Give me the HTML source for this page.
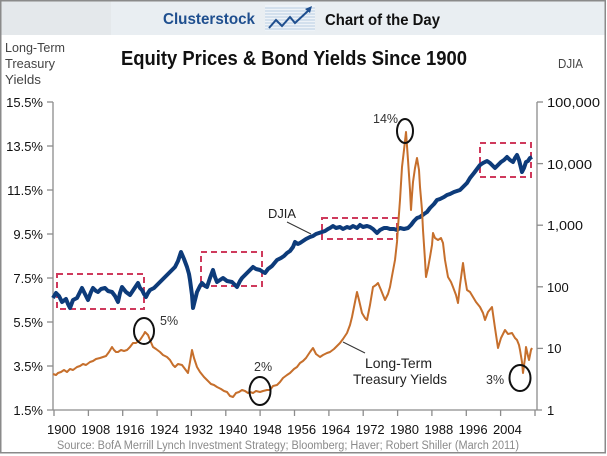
<!DOCTYPE html>
<html><head><meta charset="utf-8"><style>
html,body{margin:0;padding:0;background:#fff;}
svg{display:block;}
text{font-family:"Liberation Sans",sans-serif;}
</style></head><body>
<svg width="607" height="456" viewBox="0 0 607 456" xmlns="http://www.w3.org/2000/svg">
<rect x="0" y="0" width="607" height="456" fill="#fff"/>
<!-- header band -->
<rect x="1" y="1" width="604" height="34" fill="#e9eef2"/>
<rect x="1" y="1" width="110" height="34" fill="#e4e8eb"/>
<!-- border -->
<rect x="0.75" y="0.75" width="604.5" height="452" fill="none" stroke="#8a8a8a" stroke-width="1.5"/>

<text x="163" y="24" font-size="16" font-weight="bold" fill="#1f4f8f" textLength="92" lengthAdjust="spacingAndGlyphs">Clusterstock</text>
<!-- icon -->
<g>
<rect x="265" y="5" width="50" height="26" fill="#eef3f8"/>
<g stroke="#b8cde2" stroke-width="1">
<line x1="265" y1="8" x2="315" y2="8"/><line x1="265" y1="11" x2="315" y2="11"/><line x1="265" y1="14" x2="315" y2="14"/>
<line x1="265" y1="17" x2="315" y2="17"/><line x1="265" y1="20" x2="315" y2="20"/><line x1="265" y1="23" x2="315" y2="23"/>
<line x1="265" y1="26" x2="315" y2="26"/><line x1="265" y1="29" x2="315" y2="29"/>
</g>
<polyline points="269,28 276,20 282,26 290,17 295,23 309,10" fill="none" stroke="#1f4f8f" stroke-width="2"/>
<polygon points="312,6 305,9 310,13" fill="#1f4f8f"/>
</g>
<text x="325" y="25" font-size="16" font-weight="bold" fill="#111" textLength="115" lengthAdjust="spacingAndGlyphs">Chart of the Day</text>

<!-- title -->
<text x="121" y="65" font-size="20" font-weight="bold" fill="#111" textLength="346" lengthAdjust="spacingAndGlyphs">Equity Prices &amp; Bond Yields Since 1900</text>

<g font-size="12.5" fill="#444">
<text x="5" y="52" textLength="60" lengthAdjust="spacingAndGlyphs">Long-Term</text>
<text x="5" y="68" textLength="50" lengthAdjust="spacingAndGlyphs">Treasury</text>
<text x="5" y="84" textLength="36" lengthAdjust="spacingAndGlyphs">Yields</text>
<text x="558" y="68" textLength="25" lengthAdjust="spacingAndGlyphs">DJIA</text>
</g>

<!-- axes -->
<g stroke="#8c8c8c" stroke-width="1.3" fill="none">
<line x1="53" y1="102" x2="53" y2="410"/>
<line x1="537" y1="102" x2="537" y2="410"/>
<line x1="47" y1="410" x2="542" y2="410"/>
<line x1="47" y1="102" x2="53" y2="102"/>
<line x1="47" y1="146" x2="53" y2="146"/>
<line x1="47" y1="190" x2="53" y2="190"/>
<line x1="47" y1="234" x2="53" y2="234"/>
<line x1="47" y1="278" x2="53" y2="278"/>
<line x1="47" y1="322" x2="53" y2="322"/>
<line x1="47" y1="366" x2="53" y2="366"/>
<line x1="537" y1="102" x2="543" y2="102"/>
<line x1="537" y1="163.6" x2="543" y2="163.6"/>
<line x1="537" y1="225.2" x2="543" y2="225.2"/>
<line x1="537" y1="286.8" x2="543" y2="286.8"/>
<line x1="537" y1="348.4" x2="543" y2="348.4"/>
<line x1="54" y1="410" x2="54" y2="416"/>
<line x1="88.4" y1="410" x2="88.4" y2="416"/>
<line x1="122.7" y1="410" x2="122.7" y2="416"/>
<line x1="157.1" y1="410" x2="157.1" y2="416"/>
<line x1="191.4" y1="410" x2="191.4" y2="416"/>
<line x1="225.8" y1="410" x2="225.8" y2="416"/>
<line x1="260.1" y1="410" x2="260.1" y2="416"/>
<line x1="294.5" y1="410" x2="294.5" y2="416"/>
<line x1="328.9" y1="410" x2="328.9" y2="416"/>
<line x1="363.2" y1="410" x2="363.2" y2="416"/>
<line x1="397.6" y1="410" x2="397.6" y2="416"/>
<line x1="431.9" y1="410" x2="431.9" y2="416"/>
<line x1="466.3" y1="410" x2="466.3" y2="416"/>
<line x1="500.6" y1="410" x2="500.6" y2="416"/>
<line x1="535" y1="410" x2="535" y2="416"/>
</g>

<!-- left labels -->
<g font-size="13" fill="#111" text-anchor="end">
<text x="43" y="107">15.5%</text>
<text x="43" y="151">13.5%</text>
<text x="43" y="195">11.5%</text>
<text x="43" y="239">9.5%</text>
<text x="43" y="283">7.5%</text>
<text x="43" y="327">5.5%</text>
<text x="43" y="371">3.5%</text>
<text x="43" y="415">1.5%</text>
</g>
<!-- right labels -->
<g font-size="13" fill="#111">
<text x="547" y="107" textLength="53" lengthAdjust="spacingAndGlyphs">100,000</text>
<text x="547" y="169" textLength="45" lengthAdjust="spacingAndGlyphs">10,000</text>
<text x="547" y="230" textLength="36" lengthAdjust="spacingAndGlyphs">1,000</text>
<text x="547" y="292">100</text>
<text x="547" y="353">10</text>
<text x="547" y="415">1</text>
</g>
<!-- x labels -->
<g font-size="13" fill="#111" text-anchor="middle">
<text x="61.5" y="434">1900</text>
<text x="95.8" y="434">1908</text>
<text x="130.1" y="434">1916</text>
<text x="164.4" y="434">1924</text>
<text x="198.7" y="434">1932</text>
<text x="233" y="434">1940</text>
<text x="267.3" y="434">1948</text>
<text x="301.6" y="434">1956</text>
<text x="335.9" y="434">1964</text>
<text x="370.2" y="434">1972</text>
<text x="404.5" y="434">1980</text>
<text x="438.8" y="434">1988</text>
<text x="473.1" y="434">1996</text>
<text x="507.4" y="434">2004</text>
</g>
<text x="57" y="449" font-size="11.5" fill="#8a8a8a" textLength="462" lengthAdjust="spacingAndGlyphs">Source: BofA Merrill Lynch Investment Strategy; Bloomberg; Haver; Robert Shiller (March 2011)</text>

<!-- dashed boxes -->
<g fill="none" stroke="#cf3a5c" stroke-width="2" stroke-dasharray="6 4">
<rect x="57" y="274" width="87" height="35"/>
<rect x="201" y="252" width="61" height="34"/>
<rect x="322" y="218" width="75" height="21"/>
<rect x="480" y="143" width="51" height="34"/>
</g>

<!-- DJIA -->
<polyline fill="none" stroke="#0d3b7a" stroke-width="4" stroke-linejoin="round" points="53,298 56,293 59,296 62,302 66,299 68,304 70,308 73,300 77,298 80,292 82,288 85,294 88,300 91,292 93,288 96,291 98,292 101,289 105,288 108,291 112,292 115,296 118,302 120,293 122,287 126,292 130,295 134,289 138,283 140,288 142,290 144,294 146,297 148,293 150,290 154,288 157,285 160,282 163,279 167,275 171,271 175,267 178,261 181,252 184,259 187,267 189,274 190,280 192,295 193,308 195,300 197,292 200,286 202,283 205,286 207,287 210,278 213,270 215,277 217,282 220,280 223,278 227,281 232,282 235,285 237,287 240,281 242,278 246,274 250,270 253,267 256,269 260,270 263,272 265,273 268,269 272,266 277,260 281,258 284,256 287,253 290,251 293,247 295,242 298,244 300,243 303,241 306,239 310,237 313,236 316,234 319,233 322,232 325,231 328,229 330,228 333,226 336,228 340,227 343,229 347,227 350,228 353,226 357,228 360,225 363,227 367,226 370,227 373,229 377,233 380,230 384,228 387,228 390,229 394,229 397,230 400,228 404,229 408,228 411,225 414,221 417,218 420,217 424,214 427,212 430,208 434,204 437,200 440,199 444,197 447,195 450,194 454,192 457,191 460,190 463,187 467,183 470,178 474,173 477,169 480,165 483,163 487,161 490,163 493,166 495,168 498,165 501,162 504,160 507,157 510,160 513,162 515,158 517,155 519,160 521,168 522,172 524,168 526,162 528,161 530,158 532,157"/>

<!-- Treasury -->
<polyline fill="none" stroke="#c66f2c" stroke-width="2" stroke-linejoin="round" points="53,374 56,375 58,373 61,372 64,370 67,372 70,369 73,370 77,367 80,366 83,364 86,365 90,362 93,361 96,359 100,358 103,357 106,356 109,352 112,347 114,350 116,352 118,352 121,350 124,351 127,350 130,347 133,343 136,343 140,340 142,337 144,334 145,332 147,334 148,335 150,340 153,347 156,349 160,352 163,355 167,357 170,360 173,365 175,367 178,364 182,365 185,369 188,373 190,362 192,350 194,358 197,367 200,372 204,377 207,380 211,384 214,385 217,387 221,389 224,391 227,392 230,396 233,397 236,393 239,392 242,390 245,391 248,393 250,392 253,393 256,391 260,392 263,391 267,390 270,390 273,386 277,385 280,382 283,378 287,375 290,373 294,369 297,367 300,363 303,361 306,358 310,352 313,348 316,354 320,357 323,355 327,353 330,352 334,349 337,346 340,343 343,339 347,333 350,325 352,317 355,302 357,292 359,300 362,313 365,318 367,320 370,305 373,287 376,285 378,283 381,290 385,300 388,294 390,287 392,276 395,260 397,242 398,227 400,200 402,167 404,150 406,132 408,160 410,190 411,210 412,195 413,182 415,168 417,158 419,170 420,187 422,210 423,230 425,260 426,277 428,268 430,257 432,245 433,233 435,238 438,240 441,238 443,243 445,260 448,277 451,282 453,287 456,295 458,303 460,285 463,263 465,278 467,290 470,292 473,297 476,302 480,307 483,313 485,320 488,312 492,307 495,328 498,348 501,338 505,330 508,334 512,333 515,338 517,340 519,345 520,350 522,362 523,373 525,358 526,347 528,356 529,360 531,350 532,348"/>

<!-- circles -->
<g fill="none" stroke="#111" stroke-width="2">
<ellipse cx="144" cy="331" rx="10" ry="13"/>
<ellipse cx="260" cy="391" rx="10.5" ry="14"/>
<ellipse cx="405" cy="131" rx="8" ry="12"/>
<ellipse cx="520" cy="378" rx="10.5" ry="13"/>
</g>
<g font-size="12.5" fill="#333">
<text x="160" y="325">5%</text>
<text x="254" y="371">2%</text>
<text x="373" y="123">14%</text>
<text x="486" y="384">3%</text>
</g>

<!-- series labels -->
<line x1="287" y1="222" x2="311" y2="234" stroke="#333" stroke-width="1"/>
<text x="268" y="218" font-size="13" fill="#222" textLength="28" lengthAdjust="spacingAndGlyphs">DJIA</text>
<line x1="343" y1="342" x2="365" y2="353" stroke="#333" stroke-width="1"/>
<text x="365" y="368" font-size="14" fill="#222" textLength="67" lengthAdjust="spacingAndGlyphs">Long-Term</text>
<text x="353" y="384" font-size="14" fill="#222" textLength="94" lengthAdjust="spacingAndGlyphs">Treasury Yields</text>
</svg>
</body></html>
